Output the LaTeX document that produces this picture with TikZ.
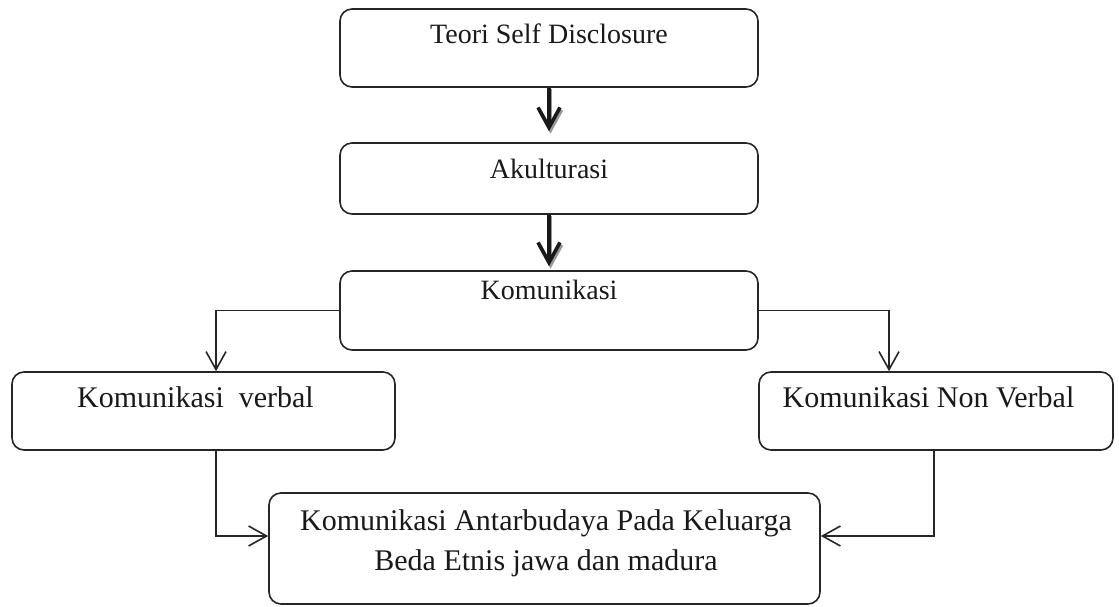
\documentclass[tikz,border=0pt]{standalone}
\usepackage{fontspec}
\setmainfont{Liberation Serif}
\usetikzlibrary{arrows.meta,calc}
\begin{document}
\begin{tikzpicture}[x=1pt,y=-1pt,
  box/.style={draw=black!85, line width=1.6pt, rounded corners=12pt, inner sep=0pt},
  txt/.style={align=center, inner sep=0pt, text=black!90, text height=0.7em, text depth=0.2em},
  big/.style={txt, font=\fontsize{28}{38}\selectfont},
  large/.style={txt, font=\fontsize{30}{40}\selectfont},
  conn/.style={draw=black!85, line width=1.6pt,
    -{Straight Barb[length=18pt,width=20pt,line width=1.6pt]}},
  bold/.style={draw=black!90, line width=3.6pt,
    -{Straight Barb[length=20pt,width=22pt,line width=3.6pt]}},
  boldshadow/.style={draw=black!40, line width=3.6pt,
    -{Straight Barb[length=20pt,width=22pt,line width=3.6pt]}}
]
\useasboundingbox (0,0) rectangle (1119,607);

\node[box, minimum width=418pt, minimum height=78pt] (b1) at (549,48) {};
\node[box, minimum width=418pt, minimum height=71pt] (b2) at (549,178.5) {};
\node[box, minimum width=418pt, minimum height=79pt] (b3) at (549,310.5) {};
\node[box, minimum width=383pt, minimum height=78pt] (b4) at (203.5,411) {};
\node[box, minimum width=354pt, minimum height=78pt] (b5) at (936,411) {};
\node[box, minimum width=551pt, minimum height=111pt] (b6) at (544.5,548.5) {};

\node[big] (t1) at (549,41) {Teori Self Disclosure};
\node[big] (t2) at (549,176) {Akulturasi};
\node[big] (t3) at (549,297) {Komunikasi};
\node[large] (t4) at (195.5,405) {Komunikasi\ \ verbal};
\node[large] (t5) at (928.5,405) {Komunikasi Non Verbal};
\node[large] (t6) at (546,528) {Komunikasi Antarbudaya Pada Keluarga};
\node[large] (t7) at (546,568) {Beda Etnis jawa dan madura};

\coordinate (lx) at (216,0);
\coordinate (rx) at (889,0);
\coordinate (rx2) at (934,0);

% thick arrows with shadow
\draw[boldshadow, shorten >=10pt] ([xshift=1.5pt,yshift=-1.5pt]b1.south) -- ([xshift=1.5pt,yshift=-1.5pt]b2.north);
\draw[bold, shorten >=11pt] (b1.south) -- (b2.north);
\draw[boldshadow, shorten >=3pt] ([xshift=1.5pt,yshift=-1.5pt]b2.south) -- ([xshift=1.5pt,yshift=-1.5pt]b3.north);
\draw[bold, shorten >=4pt] (b2.south) -- (b3.north);

% branches
\draw[conn] (b3.west) -| (b4.north -| lx);
\draw[conn] (b3.east) -| (b5.north -| rx);
\draw[conn] (b4.south -| lx) |- ([yshift=12.5pt]b6.west);
\draw[conn] (b5.south -| rx2) |- ([yshift=12.5pt]b6.east);
\end{tikzpicture}
\end{document}
